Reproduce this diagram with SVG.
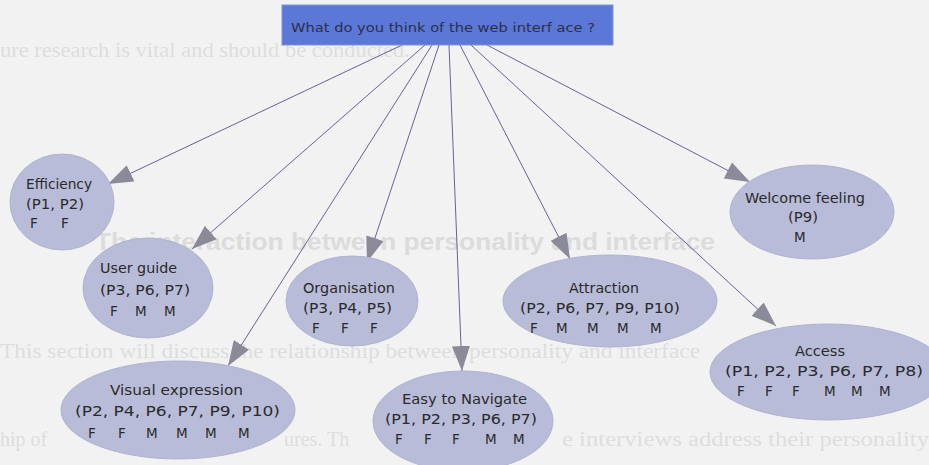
<svg xmlns="http://www.w3.org/2000/svg" width="929" height="465" viewBox="0 0 929 465">
  <style>
    text { white-space: pre; }
    .bg-text { font-family: "Liberation Serif", serif; font-size: 20px; fill: #dedede; }
    .bg-head { font-family: "Liberation Sans", sans-serif; font-size: 24px; font-weight: bold; fill: #dcdcdc; }
    .node ellipse { fill: #b9bcd9; stroke: #b0b3d0; stroke-width: 1; }
    .node text { font-family: "DejaVu Sans", Verdana, sans-serif; font-size: 13.5px; fill: #2a2a2a; }
    .edge { stroke: #6c5f9c; stroke-width: 1; fill: none; marker-end: url(#arrow); }
    .q-text { font-family: "DejaVu Sans", Verdana, sans-serif; font-size: 13px; fill: #2e2e4a; }
  </style>
  <defs>
    <marker id="arrow" markerUnits="userSpaceOnUse" markerWidth="26" markerHeight="18" refX="25" refY="9" orient="auto">
      <path d="M0,0 L25,9 L0,18 Z" fill="#8a8a98"/>
    </marker>
  </defs>

  <rect width="929" height="465" fill="#f2f2f2"/>

  <!-- faint page text showing through, only in the gaps between shapes -->
  <g id="page-text">
    <text class="bg-text" x="0" y="57" textLength="410" lengthAdjust="spacingAndGlyphs">ure research is vital and should be conducted.</text>
    <text class="bg-head" x="95" y="250" textLength="620" lengthAdjust="spacingAndGlyphs">The interaction between personality and interface</text>
    <text class="bg-text" x="0" y="358" textLength="700" lengthAdjust="spacingAndGlyphs">This section will discuss the relationship between personality and interface</text>
    <text class="bg-text" x="0" y="446">hip of</text>
    <text class="bg-text" x="284" y="446">ures. Th</text>
    <text class="bg-text" x="562" y="446" textLength="367" lengthAdjust="spacingAndGlyphs">e interviews address their personality</text>
  </g>

  <!-- connectors -->
  <g id="connectors">
    <line class="edge" x1="402" y1="45" x2="108" y2="184"/>
    <line class="edge" x1="425" y1="45" x2="192" y2="249"/>
    <line class="edge" x1="432" y1="45" x2="228" y2="366"/>
    <line class="edge" x1="439" y1="45" x2="367" y2="262"/>
    <line class="edge" x1="449" y1="45" x2="462" y2="371"/>
    <line class="edge" x1="460" y1="45" x2="570" y2="259"/>
    <line class="edge" x1="471" y1="45" x2="776" y2="326"/>
    <line class="edge" x1="487" y1="45" x2="750" y2="182"/>
  </g>

  <!-- root question -->
  <g id="question">
    <rect x="282" y="5" width="331" height="40" fill="#5b78d6" stroke="#7a93e4" stroke-width="1"/>
    <text class="q-text" x="291" y="32" textLength="304" lengthAdjust="spacingAndGlyphs">What do you think of the web interf ace ?</text>
  </g>

  <g id="efficiency" class="node">
    <ellipse cx="62" cy="202" rx="52" ry="48"/>
    <text x="26" y="189" textLength="66" lengthAdjust="spacingAndGlyphs">Efficiency</text>
    <text x="26" y="209" textLength="58" lengthAdjust="spacingAndGlyphs">(P1, P2)</text>
    <text y="228"><tspan x="30">F</tspan> <tspan x="61">F</tspan></text>
  </g>

  <g id="user-guide" class="node">
    <ellipse cx="148" cy="288" rx="65" ry="50"/>
    <text x="100" y="273" textLength="77" lengthAdjust="spacingAndGlyphs">User guide</text>
    <text x="100" y="295" textLength="90" lengthAdjust="spacingAndGlyphs">(P3, P6, P7)</text>
    <text y="316"><tspan x="110">F</tspan> <tspan x="135">M</tspan> <tspan x="164">M</tspan></text>
  </g>

  <g id="organisation" class="node">
    <ellipse cx="352" cy="301" rx="66" ry="45"/>
    <text x="303" y="293" textLength="92" lengthAdjust="spacingAndGlyphs">Organisation</text>
    <text x="303" y="313" textLength="89" lengthAdjust="spacingAndGlyphs">(P3, P4, P5)</text>
    <text y="333"><tspan x="312">F</tspan> <tspan x="341">F</tspan> <tspan x="370">F</tspan></text>
  </g>

  <g id="attraction" class="node">
    <ellipse cx="610" cy="301" rx="107" ry="46"/>
    <text x="569" y="293" textLength="70" lengthAdjust="spacingAndGlyphs">Attraction</text>
    <text x="520" y="313" textLength="160" lengthAdjust="spacingAndGlyphs">(P2, P6, P7, P9, P10)</text>
    <text y="333"><tspan x="530">F</tspan> <tspan x="556">M</tspan> <tspan x="587">M</tspan> <tspan x="617">M</tspan> <tspan x="650">M</tspan></text>
  </g>

  <g id="welcome-feeling" class="node">
    <ellipse cx="812" cy="212" rx="82" ry="47"/>
    <text x="745" y="203" textLength="120" lengthAdjust="spacingAndGlyphs">Welcome feeling</text>
    <text x="788" y="222" textLength="30" lengthAdjust="spacingAndGlyphs">(P9)</text>
    <text x="794" y="242">M</text>
  </g>

  <g id="access" class="node">
    <ellipse cx="828" cy="372" rx="118" ry="48"/>
    <text x="795" y="356" textLength="50" lengthAdjust="spacingAndGlyphs">Access</text>
    <text x="725" y="376" textLength="198" lengthAdjust="spacingAndGlyphs">(P1, P2, P3, P6, P7, P8)</text>
    <text y="396"><tspan x="737">F</tspan> <tspan x="765">F</tspan> <tspan x="792">F</tspan> <tspan x="824">M</tspan> <tspan x="851">M</tspan> <tspan x="879">M</tspan></text>
  </g>

  <g id="visual-expression" class="node">
    <ellipse cx="178" cy="410" rx="117" ry="49"/>
    <text x="110" y="395" textLength="133" lengthAdjust="spacingAndGlyphs">Visual expression</text>
    <text x="75" y="416" textLength="205" lengthAdjust="spacingAndGlyphs">(P2, P4, P6, P7, P9, P10)</text>
    <text y="438"><tspan x="88">F</tspan> <tspan x="118">F</tspan> <tspan x="146">M</tspan> <tspan x="176">M</tspan> <tspan x="205">M</tspan> <tspan x="238">M</tspan></text>
  </g>

  <g id="easy-to-navigate" class="node">
    <ellipse cx="463" cy="421" rx="90" ry="50"/>
    <text x="402" y="404" textLength="125" lengthAdjust="spacingAndGlyphs">Easy to Navigate</text>
    <text x="385" y="424" textLength="152" lengthAdjust="spacingAndGlyphs">(P1, P2, P3, P6, P7)</text>
    <text y="444"><tspan x="395">F</tspan> <tspan x="424">F</tspan> <tspan x="452">F</tspan> <tspan x="485">M</tspan> <tspan x="513">M</tspan></text>
  </g>
</svg>
